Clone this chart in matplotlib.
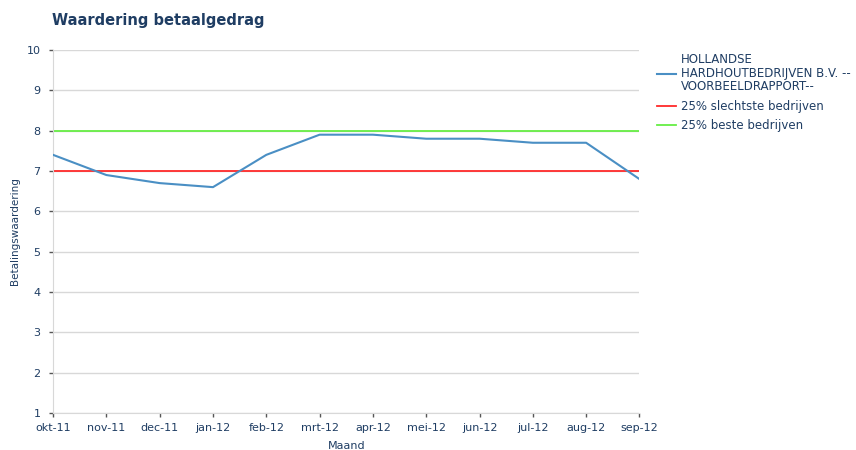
import matplotlib.pyplot as plt

months = ["okt-11", "nov-11", "dec-11", "jan-12", "feb-12", "mrt-12",
          "apr-12", "mei-12", "jun-12", "jul-12", "aug-12", "sep-12"]
company = [7.4, 6.9, 6.7, 6.6, 7.4, 7.9, 7.9, 7.8, 7.8, 7.7, 7.7, 6.8]
worst_25 = [7.0] * len(months)
best_25 = [8.0] * len(months)

labels = ["HOLLANDSE\nHARDHOUTBEDRIJVEN B.V. --\nVOORBEELDRAPPORT--",
          "25% slechtste bedrijven",
          "25% beste bedrijven"]

text_color = "#1f3d63"
plt.rcParams["font.family"] = ["DejaVu Sans"]

fig = plt.figure(figsize=(8.56, 4.5), dpi=100)
ax = fig.add_axes([0.062, 0.082, 0.685, 0.807])

x = list(range(len(months)))
ax.plot(x, company, color="#4a8fc4", lw=1.5, label=labels[0], zorder=3)
ax.plot(x, worst_25, color="#ff2a2a", lw=1.3, label=labels[1], zorder=2)
ax.plot(x, best_25, color="#66ee44", lw=1.3, label=labels[2], zorder=2)

ax.set_xlim(0, len(months) - 1)
ax.set_ylim(1, 10)
ax.set_yticks(range(1, 11))
ax.set_xticks(x)
ax.set_xticklabels(months)
ax.grid(axis="y", color="#d8d8d8", lw=1)
ax.set_axisbelow(True)
for side in ["top", "right"]:
    ax.spines[side].set_visible(False)
ax.spines["left"].set_color("#d8d8d8")
ax.spines["bottom"].set_color("#d8d8d8")
ax.tick_params(axis="both", colors="#555555", labelcolor=text_color,
               labelsize=8, length=3, width=1)
ax.tick_params(axis="y", pad=6)
ax.tick_params(axis="x", pad=4)

ax.set_xlabel("Maand", fontsize=8, color=text_color, labelpad=6)
ax.set_ylabel("Betalingswaardering", fontsize=7.5, color=text_color)
ax.yaxis.set_label_coords(-0.056, 0.5)

fig.text(0.061, 0.945, "Waardering betaalgedrag", fontsize=10.5,
         fontweight="bold", color=text_color)

leg = fig.legend(loc="upper left", bbox_to_anchor=(0.755, 0.905), frameon=False,
                 fontsize=8.5, labelcolor=text_color, handlelength=1.65,
                 handletextpad=0.4, labelspacing=0.55)
leg.get_texts()[0].set_linespacing(1.05)

fig.savefig("out.png", dpi=100)
